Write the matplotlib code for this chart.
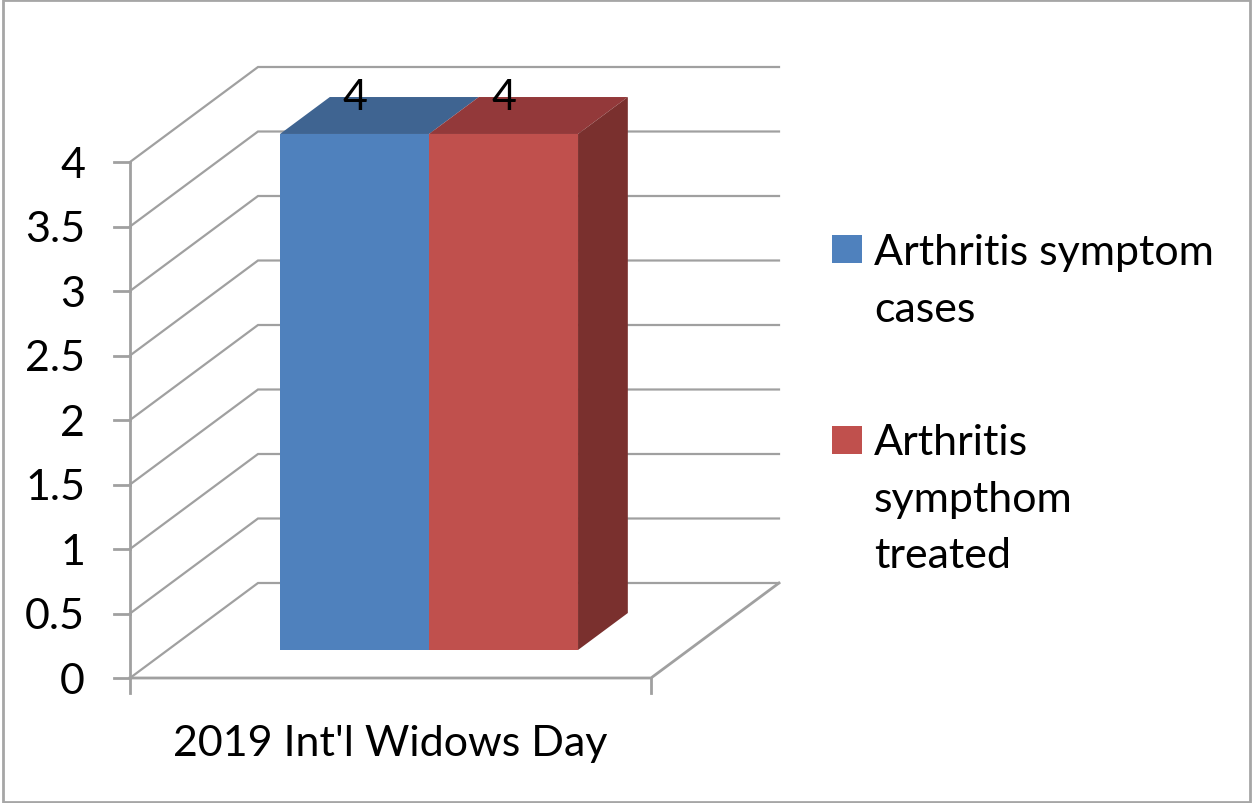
import matplotlib
matplotlib.use('Agg')
import matplotlib.pyplot as plt
from matplotlib.patches import Polygon, Rectangle
import numpy as np

plt.rcParams['font.family'] = ['Lato', 'DejaVu Sans']

category = "2019 Int'l Widows Day"
series = ['Arthritis symptom\ncases', 'Arthritis\nsympthom\ntreated']
values = [4, 4]
yticks = [0, 0.5, 1, 1.5, 2, 2.5, 3, 3.5, 4]
ytick_labels = ['0', '0.5', '1', '1.5', '2', '2.5', '3', '3.5', '4']

front_colors = ['#4F81BD', '#C0504D']
top_colors = ['#3F6491', '#93393A']
side_color = '#7A302E'
grid_color = '#A0A0A0'

W, H = 1252, 804
# pixels per unit
x0_px, y0_px = 130, 679
px_x = 521
px_y = 129
depth_x = 128 / px_x
depth_y = 95 / px_y
fs = 31


def proj(x, y, z):
    # oblique projection of the 3d box onto the axes
    return x + z * depth_x, y + z * depth_y


fig = plt.figure(figsize=(W / 100, H / 100), dpi=100)
ax = fig.add_axes([0, 0, 1, 1])
ax.set_xlim(-x0_px / px_x, (W - x0_px) / px_x)
ax.set_ylim((y0_px - H) / px_y, y0_px / px_y)
ax.axis('off')

# outer frame
fig.add_artist(Rectangle((3 / W, 1 / H), (W - 5) / W, (H - 2) / H, transform=fig.transFigure,
                         fill=False, ec='#A6A6A6', lw=2))

# walls and gridlines
for v in yticks:
    a = proj(0, v, 0)
    b = proj(0, v, 1)
    c = proj(1, v, 1)
    ax.plot([a[0], b[0], c[0]], [a[1], b[1], c[1]], color=grid_color, lw=1.6, zorder=1, solid_joinstyle='miter')

# floor
pts = [proj(0, 0, 0), proj(1, 0, 0), proj(1, 0, 1)]
ax.plot([p[0] for p in pts], [p[1] for p in pts], color=grid_color, lw=2, zorder=1)

# axis and ticks
ax.plot([0, 0], [0 - 15 / px_y, 4], color=grid_color, lw=2, zorder=1)
ax.plot([1, 1], [0 - 15 / px_y, 0], color=grid_color, lw=2, zorder=1)
for v, lab in zip(yticks, ytick_labels):
    ax.plot([-16 / px_x, 0], [v, v], color=grid_color, lw=2, zorder=1)
    ax.text(-45 / px_x, v - 3 / px_y, lab, ha='right', va='center', fontsize=fs, color='black')

ax.text(0.5, -(744 - y0_px) / px_y, category, ha='center', va='center', fontsize=fs, color='black')

# bars
bar_w = 298 / 2 / px_x
start = 0.2155
z0, z1 = 0.295, 0.684
for i, val in enumerate(values):
    l = start + i * bar_w
    r = l + bar_w
    top = [proj(l, val, z0), proj(r, val, z0), proj(r, val, z1), proj(l, val, z1)]
    ax.add_patch(Polygon(top, fc=top_colors[i], ec='none', zorder=3))
    if i == len(values) - 1:
        side = [proj(r, 0, z0), proj(r, 0, z1), proj(r, val, z1), proj(r, val, z0)]
        ax.add_patch(Polygon(side, fc=side_color, ec='none', zorder=3))
    front = [proj(l, 0, z0), proj(r, 0, z0), proj(r, val, z0), proj(l, val, z0)]
    ax.add_patch(Polygon(front, fc=front_colors[i], ec='none', zorder=4))
    cx, cy = proj((l + r) / 2, val, z0)
    ax.annotate(str(val), (cx, cy), xytext=(0, 37 * 0.72), textcoords='offset points',
                ha='center', va='center', fontsize=fs, color='black', zorder=5)

# legend
leg_y = [250, 441]
text_y = [234, 424]
for name, col, yp, ty in zip(series, front_colors, leg_y, text_y):
    ax.add_patch(Rectangle(((832 - x0_px) / px_x, (y0_px - yp - 14) / px_y), 30 / px_x, 28 / px_y,
                           fc=col, ec='none'))
    ax.text((874 - x0_px) / px_x, (y0_px - ty) / px_y, name, ha='left', va='top', fontsize=fs,
            linespacing=1.6, color='black')

fig.savefig('out.png', dpi=100)
